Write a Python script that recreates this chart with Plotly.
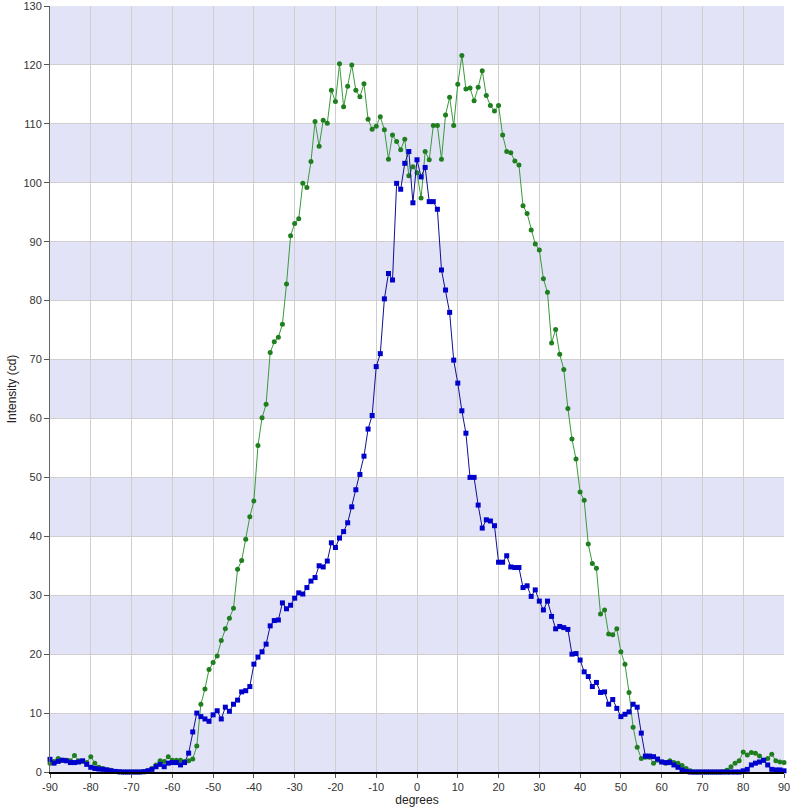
import plotly.graph_objects as go

degrees = list(range(-90, 91))

green_cd = [
    1.5, 1.8, 2.3, 2.0, 2.0, 1.9, 2.8, 1.9, 1.8, 1.6,
    2.6, 1.5, 0.8, 0.6, 0.4, 0.3, 0.1, 0.0, 0.0, 0.0,
    0.0, 0.0, 0.0, 0.05, 0.2, 0.6, 1.2, 1.9, 1.8, 2.6,
    2.0, 2.0, 2.0, 1.8, 1.9, 2.2, 4.4, 11.5, 14.1, 17.4,
    18.6, 19.7, 22.3, 24.3, 26.1, 27.8, 34.4, 35.9, 39.5, 43.3,
    46.0, 55.4, 60.1, 62.4, 71.2, 73.0, 73.8, 76.0, 82.8, 91.0,
    93.1, 93.9, 99.9, 99.2, 103.6, 110.4, 106.2, 110.6, 110.1, 115.7,
    113.8, 120.2, 112.9, 116.4, 120.0, 115.7, 114.6, 116.8, 110.8, 109.1,
    109.6, 111.2, 109.0, 104.0, 108.1, 107.0, 105.6, 107.4, 101.2, 102.7,
    101.7, 97.4, 105.3, 103.9, 109.7, 109.7, 104.0, 111.5, 114.5, 109.7,
    116.7, 121.6, 115.9, 116.1, 113.9, 116.2, 119.0, 114.8, 113.1, 112.2,
    113.1, 108.1, 105.3, 105.1, 103.7, 103.0, 96.1, 94.8, 92.0, 89.6,
    88.6, 83.7, 81.4, 72.8, 75.1, 70.9, 68.3, 61.7, 56.5, 53.1,
    47.5, 46.1, 38.7, 35.4, 34.6, 26.8, 27.5, 23.4, 23.3, 24.3,
    20.4, 18.3, 13.5, 7.6, 4.2, 2.3, 2.5, 2.5, 1.5, 2.0,
    1.7, 1.5, 1.9, 1.6, 1.5, 1.1, 0.6, 0.2, 0.0, 0.0,
    0.0, 0.0, 0.0, 0.0, 0.0, 0.05, 0.3, 0.9, 1.5, 1.9,
    3.4, 2.9, 3.3, 3.2, 2.7, 2.0, 2.3, 3.0, 1.9, 1.7, 1.6,
]

blue_cd = [
    2.15, 1.5, 1.8, 2.0, 1.9, 1.6, 1.6, 1.7, 1.9, 1.3,
    0.8, 0.6, 0.5, 0.45, 0.35, 0.2, 0.1, 0.05, 0.0, 0.0,
    0.0, 0.0, 0.0, 0.05, 0.2, 0.45, 0.9, 1.3, 0.9, 1.5,
    1.6, 1.6, 1.2, 1.6, 3.2, 6.8, 10.0, 9.4, 9.0, 8.6,
    9.7, 10.4, 9.0, 11.0, 10.3, 11.5, 12.2, 13.6, 13.8, 14.5,
    18.3, 19.5, 20.4, 21.7, 24.8, 25.7, 25.8, 28.7, 27.7, 28.3,
    29.5, 30.4, 30.2, 31.3, 32.4, 33.0, 35.0, 34.8, 35.8, 38.9,
    38.1, 39.7, 40.8, 42.3, 45.0, 47.9, 50.5, 53.6, 58.2, 60.5,
    68.8, 71.0, 80.3, 84.6, 83.5, 99.9, 98.9, 103.3, 105.3, 96.6,
    103.9, 101.0, 102.6, 96.8, 96.8, 95.5, 85.2, 81.8, 78.0, 69.9,
    66.0, 61.3, 57.5, 50.0, 50.0, 45.3, 41.4, 42.8, 42.6, 41.8,
    35.6, 35.6, 36.7, 34.8, 34.7, 34.7, 31.3, 31.6, 29.8, 30.9,
    29.0, 27.5, 29.0, 26.4, 24.3, 24.7, 24.5, 24.2, 20.0, 20.1,
    19.0, 17.0, 16.2, 14.5, 15.2, 13.5, 13.6, 11.5, 12.3, 10.8,
    9.4, 9.8, 10.2, 11.5, 11.0, 6.6, 2.7, 2.7, 2.6, 2.2,
    1.7, 1.6, 1.6, 1.2, 0.8, 0.35, 0.1, 0.0, 0.0, 0.0,
    0.0, 0.0, 0.0, 0.0, 0.0, 0.0, 0.0, 0.0, 0.0, 0.0,
    0.2, 0.45, 1.2, 1.5, 1.7, 2.0, 1.2, 0.45, 0.35, 0.35, 0.2,
]

x_ticks = list(range(-90, 91, 10))
x_tick_labels = [str(v) for v in x_ticks]
y_ticks = list(range(0, 131, 10))
y_tick_labels = [str(v) for v in y_ticks]
band_starts = list(range(0, 130, 20))
band_width = 10

FONT = "Liberation Sans, Arial, sans-serif"

fig = go.Figure()
fig.add_trace(go.Scatter(
    x=degrees, y=green_cd, mode="lines+markers",
    line=dict(color="#3a9a3a", width=1),
    marker=dict(symbol="circle", size=5, color="#1f7f1f"),
    cliponaxis=False, showlegend=False,
))
fig.add_trace(go.Scatter(
    x=degrees, y=blue_cd, mode="lines+markers",
    line=dict(color="#101090", width=1),
    marker=dict(symbol="square", size=5, color="#0000cc"),
    cliponaxis=False, showlegend=False,
))

for b in band_starts:
    fig.add_shape(type="rect", xref="paper", yref="y", x0=0, x1=1,
                  y0=b, y1=b + band_width, fillcolor="#e3e3f8",
                  line=dict(width=0), layer="below")

fig.update_layout(
    width=790, height=810,
    margin=dict(l=50, r=6, t=6, b=38, autoexpand=False),
    paper_bgcolor="white", plot_bgcolor="white",
    font=dict(family=FONT, size=11, color="#333333"),
    xaxis=dict(
        range=[-90, 90], tickvals=x_ticks, ticktext=x_tick_labels,
        showgrid=True, gridcolor="#cfcfcf", gridwidth=1,
        zeroline=False, showline=True, linecolor="#000000", linewidth=1.5,
        ticks="outside", ticklen=4, tickcolor="#555555",
        ticklabeloverflow="allow", automargin=False,
        title=dict(text="degrees", font=dict(size=12, color="#222222"), standoff=0),
        tickfont=dict(size=11, color="#333333"),
    ),
    yaxis=dict(
        range=[0, 130], tickvals=y_ticks, ticktext=y_tick_labels,
        showgrid=True, gridcolor="#cfcfcf", gridwidth=1,
        zeroline=False, showline=True, linecolor="#666666", linewidth=1,
        ticks="outside", ticklen=5, tickcolor="#555555",
        ticklabeloverflow="allow", automargin=False,
        title=dict(text="Intensity (cd)", font=dict(size=12, color="#222222"), standoff=4),
        tickfont=dict(size=11, color="#333333"),
    ),
)

fig.write_html("out.html")
